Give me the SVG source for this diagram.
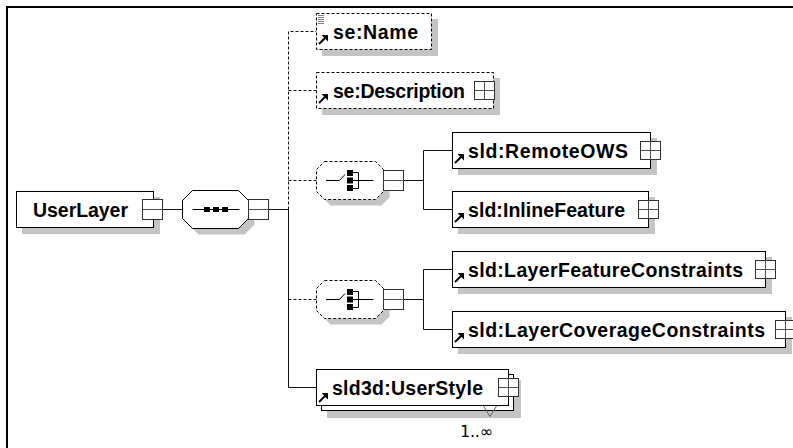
<svg xmlns="http://www.w3.org/2000/svg" xmlns:xlink="http://www.w3.org/1999/xlink" width="793" height="448" viewBox="0 0 793 448">
  <style>
    .box{fill:#fff;stroke:#000;stroke-width:1}
    .opt{fill:#fff;stroke:#000;stroke-width:1;stroke-dasharray:3 2}
    .shd{fill:#c4c4c4;stroke:none}
    .lbl{font-family:"Liberation Sans",Arial,sans-serif;font-weight:bold;font-size:19.5px;fill:#000}
    .occ{font-family:"DejaVu Sans","Liberation Sans",sans-serif;font-size:16px;fill:#000}
    .ln{fill:none;stroke:#101010;stroke-width:1}
    .dl{fill:none;stroke:#101010;stroke-width:1;stroke-dasharray:3 2}
    .tog{fill:#fff;stroke:#303030;stroke-width:1}
    .tgl{stroke:#505050;stroke-width:1;fill:none}
  </style>
  <defs>
    <!-- reference arrow, origin at its lower-left corner -->
    <g id="ref">
      <path d="M1,-1 L7,-7" stroke="#000" stroke-width="2"/>
      <path d="M10,-10 H3.5 L10,-3.5 Z" fill="#000"/>
    </g>
    <!-- expand toggle, centred on (0.5,0.5) -->
    <g id="plus">
      <rect class="tog" x="-9.5" y="-8.5" width="20" height="18"/>
      <path class="tgl" d="M-9.5,0.5 H10.5 M0.5,-8.5 V9.5"/>
    </g>
    <!-- collapse toggle, origin at left edge / centre line -->
    <g id="minus">
      <rect class="tog" x="0" y="-10" width="20" height="20"/>
      <path class="tgl" d="M0,0 H20"/>
    </g>
    <!-- choice compositor outline, origin at left tip / centre line -->
    <polygon id="oct" points="8,-19 59,-19 67,-11 67,11 59,19 8,19 0,11 0,-11"/>
    <!-- choice compositor symbol -->
    <g id="choiceIcon">
      <path d="M9.5,0 H23 L28.5,-6" fill="none" stroke="#000" stroke-width="1"/>
      <rect x="30.5" y="-10.5" width="6" height="6" fill="#000"/>
      <rect x="30.5" y="-3" width="6" height="6" fill="#000"/>
      <rect x="30.5" y="4.5" width="6" height="6" fill="#000"/>
      <path d="M36.5,-8 H42 V8 H36.5 M36.5,0 H57" fill="none" stroke="#000" stroke-width="1"/>
    </g>
  </defs>

  <rect width="793" height="448" fill="#fff"/>
  <path d="M7,448 V7 H793" fill="none" stroke="#000" stroke-width="2"/>

  <g id="connectors">
    <path class="ln" d="M162.5,209.5 H182.5"/>
    <path class="dl" d="M288.5,209.5 V31.5 H316.5"/>
    <path class="dl" d="M288.5,90.5 H316.5"/>
    <path class="dl" d="M288.5,180.5 H316.5"/>
    <path class="dl" d="M288.5,299.5 H316.5"/>
    <path class="ln" d="M268.5,209.5 H288.5 V387.5 H316.5"/>
    <path class="ln" d="M403.5,180.5 H423.5 M423.5,150.5 V209.5 M423.5,150.5 H452.5 M423.5,209.5 H452.5"/>
    <path class="ln" d="M403.5,299.5 H423.5 M423.5,269.5 V329.5 M423.5,269.5 H452.5 M423.5,329.5 H452.5"/>
  </g>

  <g id="UserLayer">
    <rect class="shd" x="22" y="197" width="138" height="37"/>
    <rect class="box" x="16.5" y="191.5" width="137" height="36"/>
    <text class="lbl" x="33" y="216.5" textLength="95" lengthAdjust="spacing">UserLayer</text>
    <use xlink:href="#minus" x="142.5" y="209.5"/>
  </g>

  <g id="sequence">
    <polygon class="shd" points="198.5,196.5 244.5,196.5 254.5,206.5 254.5,224.5 244.5,234.5 198.5,234.5 188.5,224.5 188.5,206.5"/>
    <polygon class="box" points="192.5,190.5 238.5,190.5 248.5,200.5 248.5,218.5 238.5,228.5 192.5,228.5 182.5,218.5 182.5,200.5"/>
    <path d="M192.5,209.5 H239.5" stroke="#000" stroke-width="1"/>
    <rect x="204" y="207" width="6" height="5" fill="#000"/>
    <rect x="213" y="207" width="6" height="5" fill="#000"/>
    <rect x="222" y="207" width="6" height="5" fill="#000"/>
    <use xlink:href="#minus" x="248.5" y="209.5"/>
  </g>

  <g id="se-Name">
    <rect class="shd" x="322" y="19" width="116" height="37"/>
    <rect class="opt" x="316.5" y="13.5" width="115" height="36"/>
    <path d="M318,15.5 H324 M318,17.5 H324 M318,19.5 H324 M318,21.5 H324 M318,23.5 H324" stroke="#808080" stroke-width="1"/>
    <text class="lbl" x="333" y="38.5" textLength="85" lengthAdjust="spacing">se:Name</text>
    <use xlink:href="#ref" x="318" y="45"/>
  </g>

  <g id="se-Description">
    <rect class="shd" x="322" y="78" width="178" height="37"/>
    <rect class="opt" x="316.5" y="72.5" width="177" height="36"/>
    <text class="lbl" x="333" y="97.5" textLength="132" lengthAdjust="spacing">se:Description</text>
    <use xlink:href="#ref" x="318" y="104"/>
    <use xlink:href="#plus" x="484" y="90"/>
  </g>

  <g id="choice-source">
    <use xlink:href="#oct" class="shd" x="322.5" y="186.5"/>
    <use xlink:href="#oct" class="opt" x="316.5" y="180.5"/>
    <use xlink:href="#choiceIcon" x="316.5" y="180.5"/>
    <use xlink:href="#minus" x="383.5" y="180.5"/>
  </g>

  <g id="sld-RemoteOWS">
    <rect class="shd" x="458" y="138" width="199" height="37"/>
    <rect class="box" x="452.5" y="132.5" width="198" height="36"/>
    <text class="lbl" x="468" y="157.5" textLength="160" lengthAdjust="spacing">sld:RemoteOWS</text>
    <use xlink:href="#ref" x="454" y="164"/>
    <use xlink:href="#plus" x="650" y="150"/>
  </g>

  <g id="sld-InlineFeature">
    <rect class="shd" x="458" y="197" width="197" height="37"/>
    <rect class="box" x="452.5" y="191.5" width="196" height="36"/>
    <text class="lbl" x="468" y="216.5" textLength="157" lengthAdjust="spacing">sld:InlineFeature</text>
    <use xlink:href="#ref" x="454" y="223"/>
    <use xlink:href="#plus" x="648" y="209"/>
  </g>

  <g id="choice-constraints">
    <use xlink:href="#oct" class="shd" x="322.5" y="305.5"/>
    <use xlink:href="#oct" class="opt" x="316.5" y="299.5"/>
    <use xlink:href="#choiceIcon" x="316.5" y="299.5"/>
    <use xlink:href="#minus" x="383.5" y="299.5"/>
  </g>

  <g id="sld-LayerFeatureConstraints">
    <rect class="shd" x="458" y="257" width="314" height="37"/>
    <rect class="box" x="452.5" y="251.5" width="313" height="36"/>
    <text class="lbl" x="468" y="276.5" textLength="275" lengthAdjust="spacing">sld:LayerFeatureConstraints</text>
    <use xlink:href="#ref" x="454" y="283"/>
    <use xlink:href="#plus" x="765" y="269"/>
  </g>

  <g id="sld-LayerCoverageConstraints">
    <rect class="shd" x="458" y="317" width="334" height="37"/>
    <rect class="box" x="452.5" y="311.5" width="333" height="36"/>
    <text class="lbl" x="468" y="336.5" textLength="297" lengthAdjust="spacing">sld:LayerCoverageConstraints</text>
    <use xlink:href="#ref" x="454" y="343"/>
    <use xlink:href="#plus" x="785" y="329"/>
  </g>

  <g id="sld3d-UserStyle">
    <rect class="shd" x="327" y="380" width="194" height="38"/>
    <rect class="box" x="321.5" y="374.5" width="192" height="36"/>
    <rect class="box" x="316.5" y="369.5" width="192" height="36"/>
    <text class="lbl" x="332" y="394.5" textLength="151" lengthAdjust="spacing">sld3d:UserStyle</text>
    <use xlink:href="#ref" x="318" y="403"/>
    <use xlink:href="#plus" x="508" y="387"/>
    <polyline points="483.5,406 490,416.5 496.5,406" fill="none" stroke="#606060" stroke-width="1"/>
    <text class="occ" x="460" y="437" textLength="33" lengthAdjust="spacing">1..∞</text>
  </g>
</svg>
